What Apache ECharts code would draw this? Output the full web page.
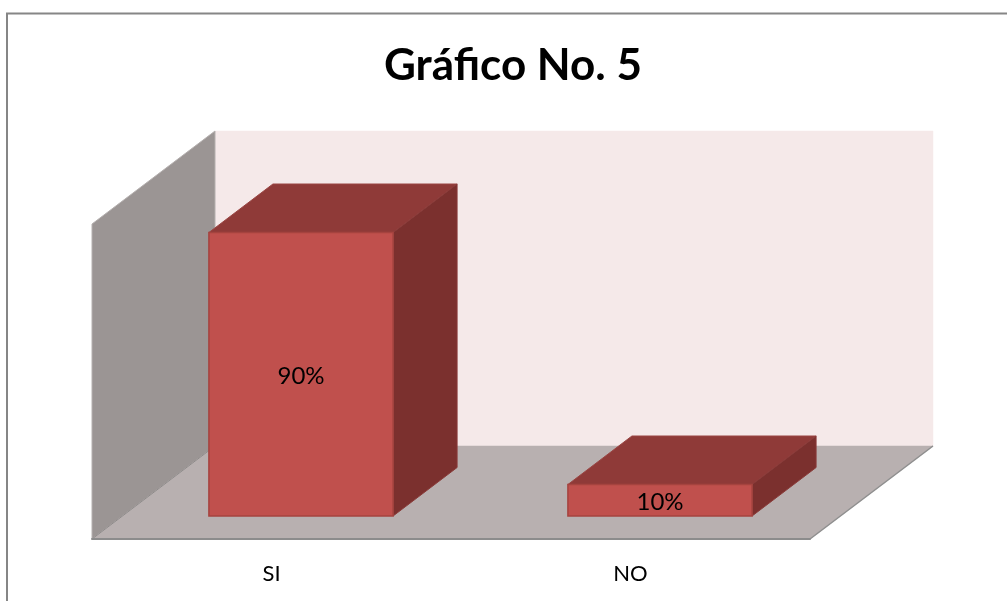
<!DOCTYPE html>
<html>
<head>
<meta charset="UTF-8">
<title>Gráfico No. 5</title>
<script type="text/javascript" src="https://cdn.jsdelivr.net/npm/echarts@6/dist/echarts.min.js"></script>
<style>
html, body { margin: 0; padding: 0; background: #fff; }
#chart { width: 1007px; height: 601px; }
</style>
</head>
<body>
<div id="chart"></div>
<script type="text/javascript">
// datos del grafico
var titleText = "Gráfico No. 5";
var categories = ["SI", "NO"];
var values = [90, 10];
var valueMin = 0;
var valueMax = 100;

// profundidad de la caja 3D
var boxDepth = { x: 123, y: -93 };
// las barras van separadas del frente y tienen su propio fondo
var barShift = { x: 29.5, y: -23 };
var barDepth = { x: 64, y: -48.5 };
var barRatio = 0.513;

function poly(points, fill, stroke, lineWidth) {
	return {
		type: "polygon",
		shape: { points: points },
		style: { fill: fill, stroke: stroke || fill, lineWidth: lineWidth || 0.5 }
	};
}

// paredes y piso
function renderWalls(params, api) {
	var box = params.coordSys;
	var l = box.x, r = box.x + box.width, t = box.y, b = box.y + box.height;
	var dx = boxDepth.x, dy = boxDepth.y;
	return {
		type: "group",
		children: [
			poly([[l + dx, t + dy], [r + dx, t + dy], [r + dx, b + dy], [l + dx, b + dy]], "#f5e9e9"),
			poly([[l, t], [l + dx, t + dy], [l + dx, b + dy], [l, b]], "#9b9594", "#b5b0af", 1),
			poly([[l, b], [l + dx, b + dy], [r + dx, b + dy], [r, b]], "#b8b0b0"),
			{ type: "line", shape: { x1: l, y1: b, x2: l + dx, y2: b + dy }, style: { stroke: "#8f8c8b", lineWidth: 1 } },
			{ type: "line", shape: { x1: r, y1: b, x2: r + dx, y2: b + dy }, style: { stroke: "#8f8f8f", lineWidth: 1.5 } }
		]
	};
}

// una barra = frente + tapa + lado
function renderBar(params, api) {
	var base = api.coord([api.value(0), 0]);
	var top = api.coord([api.value(0), api.value(1)]);
	var w = api.size([1, 0])[0] * barRatio;
	var x1 = base[0] + barShift.x - w / 2;
	var x2 = x1 + w;
	var y1 = top[1] + barShift.y;
	var y2 = base[1] + barShift.y;
	var dx = barDepth.x, dy = barDepth.y;
	return {
		type: "group",
		children: [
			poly([[x1, y1], [x1 + dx, y1 + dy], [x2 + dx, y1 + dy], [x2, y1]], "#8f3a38", "#9a4543", 1),
			poly([[x2, y1], [x2 + dx, y1 + dy], [x2 + dx, y2 + dy], [x2, y2]], "#7b302e", "#8a3b39", 1),
			poly([[x1, y1], [x2, y1], [x2, y2], [x1, y2]], "#c0504d", "#a5433f", 1.5),
			{
				type: "text",
				style: {
					x: (x1 + x2) / 2,
					y: (y1 + y2) / 2 + 2,
					text: api.value(1) + "%",
					align: "center",
					verticalAlign: "middle",
					fontFamily: "Lato",
					fontSize: 24,
					fill: "#000"
				}
			}
		]
	};
}

var myChart = echarts.init(document.getElementById("chart"));

var option = {
	animation: false,
	backgroundColor: "#fff",
	title: {
		text: titleText,
		left: 508,
		top: 39,
		textAlign: "center",
		textStyle: { fontFamily: "Lato", fontWeight: "bold", fontSize: 44, color: "#000" }
	},
	// marco exterior
	graphic: [{
		type: "polyline",
		shape: { points: [[7, 601], [7, 13.5], [1007, 13.5]] },
		style: { stroke: "#868686", lineWidth: 2, fill: null },
		silent: true
	}],
	// la rejilla es el plano frontal de la caja
	grid: { left: 92, top: 224, width: 718, height: 315 },
	xAxis: {
		type: "category",
		data: categories,
		z: 3,
		axisTick: { show: false },
		axisLine: { lineStyle: { color: "#8c8c8c", width: 2 } },
		axisLabel: { margin: 24, fontFamily: "Lato", fontSize: 22, color: "#000" }
	},
	yAxis: { type: "value", min: valueMin, max: valueMax, show: false, splitLine: { show: false } },
	series: [
		{
			type: "custom",
			name: "fondo",
			z: 1,
			silent: true,
			renderItem: renderWalls,
			data: [[0, 0]]
		},
		{
			type: "custom",
			name: "valores",
			z: 2,
			renderItem: renderBar,
			data: categories.map(function (c, i) { return [i, values[i]]; })
		}
	]
};

myChart.setOption(option);
</script>
</body>
</html>
